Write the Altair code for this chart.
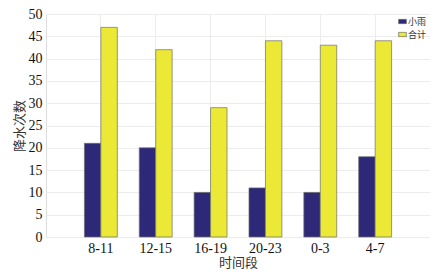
import altair as alt
import pandas as pd

periods = ["8-11", "12-15", "16-19", "20-23", "0-3", "4-7"]
light_rain = [21, 20, 10, 11, 10, 18]
total = [47, 42, 29, 44, 43, 44]
series = ["小雨", "合计"]
colors = ["#2e2878", "#ebe836"]
y_ticks = list(range(0, 51, 5))

rows = []
for p, a, b in zip(periods, light_rain, total):
    rows.append({"时间段": p, "系列": series[0], "次数": a})
    rows.append({"时间段": p, "系列": series[1], "次数": b})
df = pd.DataFrame(rows)

serif = "'Times New Roman', 'Liberation Serif', serif"
cjk = "Noto Sans CJK SC"

chart = alt.Chart(df).mark_bar(stroke="#6e6e6e", strokeWidth=0.7).encode(
    x=alt.X(
        "时间段:N",
        sort=periods,
        scale=alt.Scale(paddingInner=0.4, paddingOuter=0.7),
        axis=alt.Axis(
            title="时间段", labelAngle=0, labelFont=serif, labelFontSize=14,
            labelColor="#111", titleFont=cjk, titleFontSize=13, titleFontWeight="normal",
            titleColor="#333", ticks=False, domain=False, grid=True, bandPosition=0.5,
            gridColor="#ececec", labelPadding=4, titlePadding=1,
        ),
    ),
    xOffset=alt.XOffset("系列:N", sort=series, scale=alt.Scale(domain=series, paddingInner=0, paddingOuter=0)),
    y=alt.Y(
        "次数:Q",
        scale=alt.Scale(domain=[0, 50], nice=False),
        axis=alt.Axis(
            title="降水次数", values=y_ticks, labelFont=serif, labelFontSize=14,
            labelColor="#111", titleFont=cjk, titleFontSize=13, titleFontWeight="normal",
            titleColor="#333", ticks=False, domain=False, grid=True, gridColor="#ececec",
            labelPadding=4, titlePadding=2,
        ),
    ),
    color=alt.Color(
        "系列:N",
        sort=series,
        scale=alt.Scale(domain=series, range=colors),
        legend=alt.Legend(
            title=None, orient="top-right", offset=2, labelFont=cjk, labelFontSize=9,
            labelColor="#333", symbolType="M-1,-0.55H1V0.55H-1Z", symbolSize=60,
            symbolStrokeColor="#555", symbolStrokeWidth=0.6, rowPadding=3, padding=1,
            labelOffset=1, symbolOffset=0,
        ),
    ),
).properties(
    width=384, height=223,
    autosize=alt.AutoSizeParams(type="none"),
    padding={"left": 38, "top": 6, "right": 0, "bottom": 33},
).configure_view(
    stroke="#a6a6a6", strokeWidth=1
).configure(background="white")

chart.save("out.html", embed_options={"renderer": "svg", "actions": False})
